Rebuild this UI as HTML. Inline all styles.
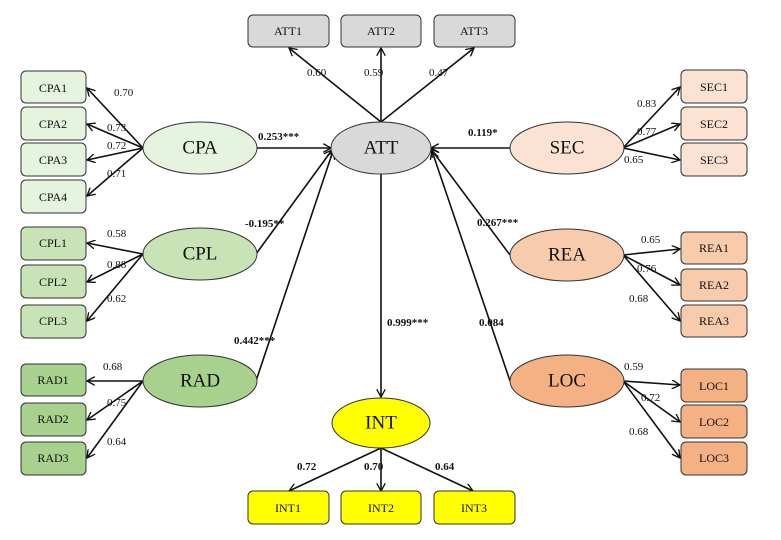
<!DOCTYPE html>
<html><head><meta charset="utf-8"><style>
html,body{margin:0;padding:0;background:#fff;}
svg{display:block;}
text{font-family:"Liberation Serif",serif;fill:#111;}
.b{font-size:12px;text-anchor:middle;dominant-baseline:central;}
.e{font-size:19px;text-anchor:middle;dominant-baseline:central;}
.l{font-size:11px;}
.p{font-size:11px;font-weight:bold;}
</style></head><body>
<svg width="781" height="540" viewBox="0 0 781 540" xmlns="http://www.w3.org/2000/svg">
<defs>
<marker id="a" viewBox="0 0 10 10" refX="9" refY="5" markerWidth="9" markerHeight="9" orient="auto" markerUnits="userSpaceOnUse">
<path d="M0,0 L9,5 L0,10" fill="none" stroke="#111" stroke-width="1.5"/>
</marker>
</defs>
<g stroke="#111" stroke-width="1.6" fill="none" marker-end="url(#a)">
<line x1="143" y1="148" x2="87" y2="88"/>
<line x1="143" y1="148" x2="87" y2="124"/>
<line x1="143" y1="148" x2="87" y2="160"/>
<line x1="143" y1="148" x2="87" y2="196"/>
<line x1="143" y1="254" x2="87" y2="243"/>
<line x1="143" y1="254" x2="87" y2="282"/>
<line x1="143" y1="254" x2="87" y2="321"/>
<line x1="143" y1="381" x2="87" y2="381"/>
<line x1="143" y1="381" x2="87" y2="420"/>
<line x1="143" y1="381" x2="87" y2="458"/>
<line x1="623" y1="148" x2="680" y2="87"/>
<line x1="623" y1="148" x2="680" y2="124"/>
<line x1="623" y1="148" x2="680" y2="160"/>
<line x1="623" y1="255" x2="680" y2="249"/>
<line x1="623" y1="255" x2="680" y2="285"/>
<line x1="623" y1="255" x2="680" y2="321"/>
<line x1="623" y1="381" x2="680" y2="385"/>
<line x1="623" y1="381" x2="680" y2="422"/>
<line x1="623" y1="381" x2="680" y2="458"/>
<line x1="381" y1="122" x2="289" y2="48"/>
<line x1="381" y1="122" x2="381" y2="48"/>
<line x1="381" y1="122" x2="474" y2="48"/>
<line x1="381" y1="448" x2="289" y2="491"/>
<line x1="381" y1="448" x2="381" y2="491"/>
<line x1="381" y1="448" x2="473" y2="491"/>
<line x1="256" y1="148" x2="331" y2="148"/>
<line x1="256" y1="254" x2="332" y2="150"/>
<line x1="256" y1="381" x2="333" y2="151"/>
<line x1="510" y1="148" x2="431" y2="148"/>
<line x1="510" y1="255" x2="431" y2="149"/>
<line x1="510" y1="381" x2="432" y2="151"/>
<line x1="381" y1="174" x2="381" y2="397"/>
</g>
<g stroke="#333" stroke-width="1">
<g fill="#e6f3df">
<rect x="21" y="71" width="65" height="32" rx="5"/><rect x="21" y="107" width="65" height="33" rx="5"/>
<rect x="21" y="143" width="65" height="33" rx="5"/><rect x="21" y="180" width="65" height="33" rx="5"/>
<ellipse cx="200" cy="148" rx="57" ry="26"/>
</g>
<g fill="#c8e3b5">
<rect x="21" y="227" width="65" height="33" rx="5"/><rect x="21" y="265" width="65" height="33" rx="5"/>
<rect x="21" y="305" width="65" height="33" rx="5"/>
<ellipse cx="200" cy="254" rx="57" ry="26"/>
</g>
<g fill="#a7d18c">
<rect x="21" y="364" width="65" height="32" rx="5"/><rect x="21" y="403" width="65" height="33" rx="5"/>
<rect x="21" y="442" width="65" height="33" rx="5"/>
<ellipse cx="200" cy="381" rx="57" ry="26"/>
</g>
<g fill="#fbe2d3">
<rect x="681" y="70" width="66" height="33" rx="5"/><rect x="681" y="107" width="66" height="33" rx="5"/>
<rect x="681" y="143" width="66" height="33" rx="5"/>
<ellipse cx="567" cy="148" rx="57" ry="26"/>
</g>
<g fill="#f8cbad">
<rect x="681" y="232" width="66" height="32" rx="5"/><rect x="681" y="269" width="66" height="32" rx="5"/>
<rect x="681" y="305" width="66" height="32" rx="5"/>
<ellipse cx="567" cy="255" rx="57" ry="26"/>
</g>
<g fill="#f4b183">
<rect x="681" y="369" width="66" height="33" rx="5"/><rect x="681" y="405" width="66" height="33" rx="5"/>
<rect x="681" y="442" width="66" height="33" rx="5"/>
<ellipse cx="567" cy="381" rx="57" ry="26"/>
</g>
<g fill="#d9d9d9">
<rect x="248" y="15" width="81" height="32" rx="5"/><rect x="341" y="15" width="80" height="32" rx="5"/>
<rect x="434" y="15" width="81" height="32" rx="5"/>
<ellipse cx="381" cy="148" rx="50" ry="26"/>
</g>
<g fill="#ffff00">
<rect x="248" y="491" width="81" height="33" rx="5"/><rect x="341" y="491" width="80" height="33" rx="5"/>
<rect x="434" y="491" width="81" height="33" rx="5"/>
<ellipse cx="381" cy="423" rx="49" ry="25"/>
</g>
</g>
<g class="b">
<text x="53" y="88">CPA1</text><text x="53" y="124">CPA2</text><text x="53" y="160">CPA3</text><text x="53" y="197">CPA4</text>
<text x="53" y="243">CPL1</text><text x="53" y="282">CPL2</text><text x="53" y="321">CPL3</text>
<text x="53" y="380">RAD1</text><text x="53" y="419">RAD2</text><text x="53" y="458">RAD3</text>
<text x="714" y="87">SEC1</text><text x="714" y="124">SEC2</text><text x="714" y="160">SEC3</text>
<text x="714" y="248">REA1</text><text x="714" y="285">REA2</text><text x="714" y="321">REA3</text>
<text x="714" y="386">LOC1</text><text x="714" y="422">LOC2</text><text x="714" y="458">LOC3</text>
<text x="288" y="31">ATT1</text><text x="381" y="31">ATT2</text><text x="474" y="31">ATT3</text>
<text x="288" y="508">INT1</text><text x="381" y="508">INT2</text><text x="474" y="508">INT3</text>
</g>
<g class="e">
<text x="200" y="148">CPA</text><text x="200" y="254">CPL</text><text x="200" y="381">RAD</text>
<text x="567" y="148">SEC</text><text x="567" y="255">REA</text><text x="567" y="381">LOC</text>
<text x="381" y="148">ATT</text><text x="381" y="423">INT</text>
</g>
<g class="l">
<text x="114" y="96">0.70</text><text x="107" y="131">0.73</text><text x="107" y="149">0.72</text><text x="107" y="177">0.71</text>
<text x="107" y="237">0.58</text><text x="107" y="268">0.88</text><text x="107" y="302">0.62</text>
<text x="103" y="370">0.68</text><text x="107" y="406">0.75</text><text x="107" y="445">0.64</text>
<text x="637" y="107">0.83</text><text x="637" y="135">0.77</text><text x="624" y="163">0.65</text>
<text x="641" y="243">0.65</text><text x="637" y="272">0.76</text><text x="629" y="302">0.68</text>
<text x="624" y="370">0.59</text><text x="641" y="401">0.72</text><text x="629" y="435">0.68</text>
<text x="307" y="76">0.60</text><text x="364" y="76">0.59</text><text x="429" y="76">0.47</text>
</g>
<g class="p">
<text x="258" y="140">0.253***</text>
<text x="245" y="227">-0.195**</text>
<text x="234" y="344">0.442***</text>
<text x="468" y="136">0.119*</text>
<text x="477" y="226">0.267***</text>
<text x="479" y="326">0.084</text>
<text x="387" y="326">0.999***</text>
<text x="297" y="470">0.72</text>
<text x="364" y="470">0.70</text>
<text x="435" y="470">0.64</text>
</g>
</svg>
</body></html>
